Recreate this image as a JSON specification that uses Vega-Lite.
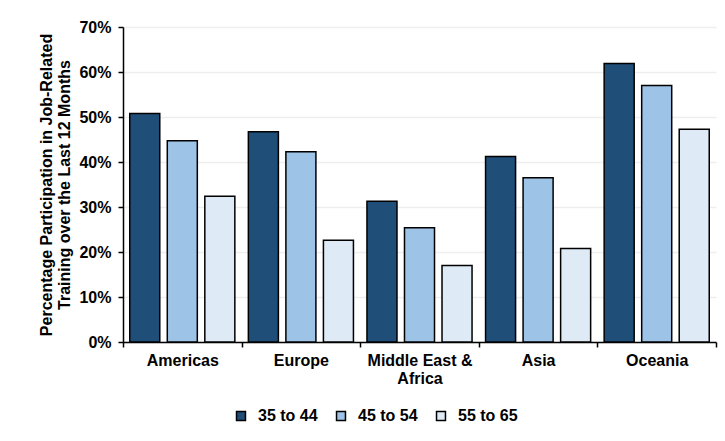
{
  "$schema": "https://vega.github.io/schema/vega-lite/v6.json",
  "width": 593,
  "height": 315,
  "autosize": {"type": "none"},
  "padding": {"left": 123, "top": 27, "right": 9, "bottom": 99},
  "background": "white",
  "config": {
    "font": "Liberation Sans",
    "view": {"stroke": null}
  },
  "data": {
    "values": [
      {"region": "Americas", "age": "35 to 44", "pct": 0.508},
      {"region": "Americas", "age": "45 to 54", "pct": 0.447},
      {"region": "Americas", "age": "55 to 65", "pct": 0.324},
      {"region": "Europe", "age": "35 to 44", "pct": 0.467},
      {"region": "Europe", "age": "45 to 54", "pct": 0.423},
      {"region": "Europe", "age": "55 to 65", "pct": 0.226},
      {"region": "Middle East & Africa", "age": "35 to 44", "pct": 0.313},
      {"region": "Middle East & Africa", "age": "45 to 54", "pct": 0.254},
      {"region": "Middle East & Africa", "age": "55 to 65", "pct": 0.170},
      {"region": "Asia", "age": "35 to 44", "pct": 0.412},
      {"region": "Asia", "age": "45 to 54", "pct": 0.365},
      {"region": "Asia", "age": "55 to 65", "pct": 0.208},
      {"region": "Oceania", "age": "35 to 44", "pct": 0.619},
      {"region": "Oceania", "age": "45 to 54", "pct": 0.570},
      {"region": "Oceania", "age": "55 to 65", "pct": 0.473}
    ]
  },
  "mark": {"type": "bar", "stroke": "#000000", "strokeWidth": 1.5},
  "encoding": {
    "x": {
      "field": "region",
      "type": "nominal",
      "sort": null,
      "scale": {"paddingInner": 0, "paddingOuter": 0},
      "axis": {
        "title": null,
        "labelAngle": 0,
        "labelPadding": 5,
        "tickBand": "extent",
        "labelLineHeight": 18,
        "labelFont": "Liberation Sans",
        "labelFontWeight": "bold",
        "labelFontSize": 16,
        "labelColor": "#000000",
        "labelOverlap": false,
        "domainColor": "#000000",
        "domainWidth": 1.5,
        "tickColor": "#000000",
        "tickWidth": 1.5,
        "tickSize": 5,
        "labelExpr": "datum.label == 'Middle East & Africa' ? ['Middle East &', 'Africa'] : datum.label"
      }
    },
    "xOffset": {
      "field": "age",
      "type": "nominal",
      "sort": null,
      "scale": {"paddingInner": 0.2, "paddingOuter": 0.18}
    },
    "y": {
      "field": "pct",
      "type": "quantitative",
      "scale": {"domain": [0, 0.7], "nice": false},
      "axis": {
        "format": ".0%",
        "values": [0, 0.1, 0.2, 0.3, 0.4, 0.5, 0.6, 0.7],
        "labelPadding": 7,
        "labelFont": "Liberation Sans",
        "labelFontWeight": "bold",
        "labelFontSize": 16,
        "labelColor": "#000000",
        "labelOverlap": false,
        "domainColor": "#000000",
        "domainWidth": 1.5,
        "tickColor": "#000000",
        "tickWidth": 1.5,
        "tickSize": 5,
        "grid": true,
        "gridColor": "#eeeeee",
        "gridWidth": 1.5,
        "title": ["Percentage Participation in Job-Related", "Training over the Last 12 Months"],
        "titleFont": "Liberation Sans",
        "titleFontWeight": "bold",
        "titleFontSize": 16,
        "titleColor": "#000000",
        "titleLineHeight": 18,
        "titlePadding": 6
      }
    },
    "fill": {
      "field": "age",
      "type": "nominal",
      "sort": null,
      "scale": {
        "domain": ["35 to 44", "45 to 54", "55 to 65"],
        "range": ["#1f4e79", "#9dc3e6", "#deebf7"]
      },
      "legend": {
        "title": null,
        "orient": "none",
        "direction": "horizontal",
        "legendX": 110,
        "legendY": 381,
        "symbolType": "square",
        "symbolSize": 80,
        "symbolStrokeColor": "#000000",
        "symbolStrokeWidth": 1.5,
        "labelFont": "Liberation Sans",
        "labelFontWeight": "bold",
        "labelFontSize": 16,
        "labelColor": "#000000",
        "labelOffset": 9,
        "columnPadding": 15
      }
    }
  }
}
